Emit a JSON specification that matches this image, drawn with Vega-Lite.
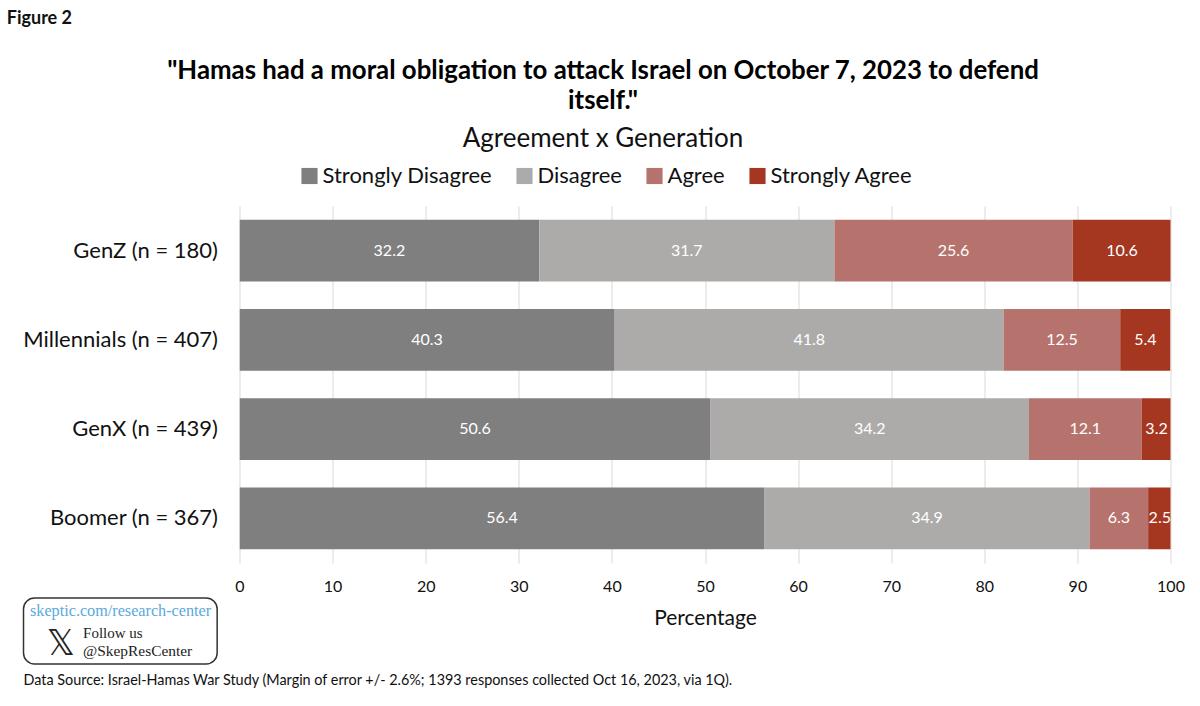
{
"$schema":"https://vega.github.io/schema/vega-lite/v6.json",
"width":931,"height":357,"autosize":"none","padding":{"left":239.5,"top":206,"right":29.5,"bottom":143},
"background":"white",
"config":{"view":{"stroke":null},"font":"Lato"},
"title":{"text":["\"Hamas had a moral obligation to attack Israel on October 7, 2023 to defend","itself.\""],"subtitle":"Agreement x Generation","anchor":"middle","dx":-102,"offset":-143,"fontSize":25.8,"fontWeight":"bold","font":"Lato","color":"#000000","lineHeight":30,"subtitleFontSize":26,"subtitleFont":"Lato","subtitleColor":"#111111","subtitlePadding":11,"subtitleFontWeight":"normal"},
"datasets":{"survey":[
{"generation":"GenZ (n = 180)","response":"Strongly Disagree","rank":1,"pct":32.2},
{"generation":"GenZ (n = 180)","response":"Disagree","rank":2,"pct":31.7},
{"generation":"GenZ (n = 180)","response":"Agree","rank":3,"pct":25.6},
{"generation":"GenZ (n = 180)","response":"Strongly Agree","rank":4,"pct":10.6},
{"generation":"Millennials (n = 407)","response":"Strongly Disagree","rank":1,"pct":40.3},
{"generation":"Millennials (n = 407)","response":"Disagree","rank":2,"pct":41.8},
{"generation":"Millennials (n = 407)","response":"Agree","rank":3,"pct":12.5},
{"generation":"Millennials (n = 407)","response":"Strongly Agree","rank":4,"pct":5.4},
{"generation":"GenX (n = 439)","response":"Strongly Disagree","rank":1,"pct":50.6},
{"generation":"GenX (n = 439)","response":"Disagree","rank":2,"pct":34.2},
{"generation":"GenX (n = 439)","response":"Agree","rank":3,"pct":12.1},
{"generation":"GenX (n = 439)","response":"Strongly Agree","rank":4,"pct":3.2},
{"generation":"Boomer (n = 367)","response":"Strongly Disagree","rank":1,"pct":56.4},
{"generation":"Boomer (n = 367)","response":"Disagree","rank":2,"pct":34.9},
{"generation":"Boomer (n = 367)","response":"Agree","rank":3,"pct":6.3},
{"generation":"Boomer (n = 367)","response":"Strongly Agree","rank":4,"pct":2.5}
],
"figure":[{"note":"Figure 2"}],
"site":[{"note":"skeptic.com/research-center"}],
"follow":[{"note":"Follow us"}],
"handle":[{"note":"@SkepResCenter"}],
"logo":[{"note":"𝕏"}],
"frame":[{"note":"box"}],
"source":[{"note":"Data Source: Israel-Hamas War Study (Margin of error +/- 2.6%; 1393 responses collected Oct 16, 2023, via 1Q)."}]
},
"layer":[
{"data":{"name":"survey"},
"mark":{"type":"bar","clip":true},
"encoding":{
"y":{"field":"generation","type":"nominal","sort":["GenZ (n = 180)","Millennials (n = 407)","GenX (n = 439)","Boomer (n = 367)"],"scale":{"paddingInner":0.31,"paddingOuter":0.155},"title":null,"axis":{"domain":false,"ticks":false,"labelFontSize":22,"labelColor":"#111111","labelPadding":22,"labelLimit":240,"grid":false}},
"x":{"field":"pct","type":"quantitative","stack":"zero","scale":{"domain":[0,100],"nice":false},"title":"Percentage","axis":{"values":[0,10,20,30,40,50,60,70,80,90,100],"grid":true,"gridColor":"#d9d9d9","gridWidth":1,"domain":false,"ticks":false,"labelFontSize":16,"labelColor":"#111111","labelPadding":15,"labelFlush":false,"titleFontSize":21,"titleFontWeight":"normal","titleColor":"#111111","titlePadding":13}},
"color":{"field":"response","type":"nominal","sort":["Strongly Disagree","Disagree","Agree","Strongly Agree"],"scale":{"domain":["Strongly Disagree","Disagree","Agree","Strongly Agree"],"range":["#7f7f7f","#adabaa","#b6736d","#a5361f"]},
"legend":{"orient":"none","legendX":59,"legendY":-41,"direction":"horizontal","columns":4,"title":null,"symbolType":"square","symbolSize":260,"symbolStrokeWidth":0,"symbolOpacity":1,"labelFontSize":22,"labelColor":"#111111","columnPadding":21,"labelOffset":2,"labelLimit":220}},
"order":{"field":"rank","type":"quantitative"}
}},
{"data":{"name":"survey"},
"mark":{"type":"text","color":"white","fontSize":16,"align":"center","baseline":"middle"},
"encoding":{
"y":{"field":"generation","type":"nominal","sort":["GenZ (n = 180)","Millennials (n = 407)","GenX (n = 439)","Boomer (n = 367)"],"scale":{"paddingInner":0.31,"paddingOuter":0.155},"title":null,"axis":null},
"x":{"field":"pct","type":"quantitative","stack":"zero","bandPosition":0.5},
"detail":{"field":"response"},
"order":{"field":"rank","type":"quantitative"},
"text":{"field":"pct","type":"quantitative","format":".1f"}
}},
{"data":{"name":"figure"},"mark":{"type":"text","align":"left","baseline":"middle","fontSize":18,"fontWeight":"bold","color":"#111111"},
"encoding":{"x":{"datum":-25},"y":{"datum":18,"type":"quantitative","scale":{"domain":[562,205],"nice":false,"zero":false},"axis":null},"text":{"field":"note"}}},
{"data":{"name":"frame"},"mark":{"type":"rect","fill":"white","stroke":"#333333","strokeWidth":1.5,"cornerRadius":11},
"encoding":{"x":{"datum":-23.2},"x2":{"datum":-2.4},"y":{"datum":597,"type":"quantitative","scale":{"domain":[562,205],"nice":false,"zero":false},"axis":null},"y2":{"datum":663}}},
{"data":{"name":"site"},"mark":{"type":"text","align":"left","baseline":"middle","fontSize":16.2,"font":"Liberation Serif","color":"#5aa9e0"},
"encoding":{"x":{"datum":-22.5},"y":{"datum":610,"type":"quantitative","scale":{"domain":[562,205],"nice":false,"zero":false},"axis":null},"text":{"field":"note"}}},
{"data":{"name":"logo"},"mark":{"type":"text","align":"center","baseline":"middle","fontSize":35,"font":"DejaVu Sans","color":"#222222"},
"encoding":{"x":{"datum":-19.2},"y":{"datum":643,"type":"quantitative","scale":{"domain":[562,205],"nice":false,"zero":false},"axis":null},"text":{"field":"note"}}},
{"data":{"name":"follow"},"mark":{"type":"text","align":"left","baseline":"middle","fontSize":15,"font":"Liberation Serif","color":"#222222"},
"encoding":{"x":{"datum":-16.8},"y":{"datum":632,"type":"quantitative","scale":{"domain":[562,205],"nice":false,"zero":false},"axis":null},"text":{"field":"note"}}},
{"data":{"name":"handle"},"mark":{"type":"text","align":"left","baseline":"middle","fontSize":15.4,"font":"Liberation Serif","color":"#222222"},
"encoding":{"x":{"datum":-16.8},"y":{"datum":650,"type":"quantitative","scale":{"domain":[562,205],"nice":false,"zero":false},"axis":null},"text":{"field":"note"}}},
{"data":{"name":"source"},"mark":{"type":"text","align":"left","baseline":"middle","fontSize":14.4,"color":"#111111"},
"encoding":{"x":{"datum":-23.2},"y":{"datum":680,"type":"quantitative","scale":{"domain":[562,205],"nice":false,"zero":false},"axis":null},"text":{"field":"note"}}}
],
"resolve":{"scale":{"y":"independent"}}
}
